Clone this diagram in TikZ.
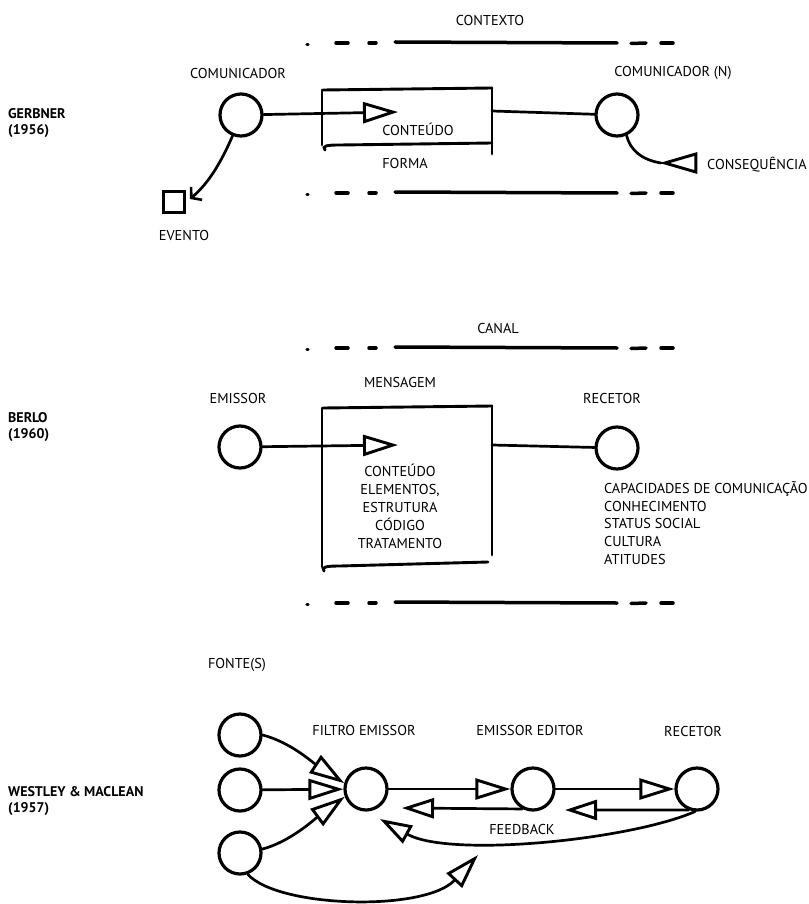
\documentclass[tikz,border=0pt]{standalone}
\usepackage{fontspec}
\setmainfont{PT Sans}
\usetikzlibrary{arrows.meta,shapes.geometric}
\begin{document}
\begin{tikzpicture}[x=1pt,y=-1pt,
  lbl/.style={font=\fontsize{14.3}{17}\selectfont, inner sep=0},
  listtext/.style={font=\fontsize{14.3}{17.8}\selectfont, inner sep=0, align=left},
  boxtext/.style={font=\fontsize{14.3}{18}\selectfont, inner sep=0, align=center},
  ttlb/.style={font=\fontsize{14}{15.5}\selectfont\bfseries, inner sep=0, anchor=west, align=left},
  actor/.style={circle, draw, line width=3.2pt, minimum size=42pt, inner sep=0},
  conn/.style={line width=2.7pt, line cap=round},
  boxline/.style={line width=2.9pt, line cap=round},
  band/.style={line width=3.5pt, line cap=round},
  tri/.style={-{Triangle[open,length=35pt,width=21pt,line width=2.9pt]}},
  smalltri/.style={-{Triangle[open,length=32pt,width=20pt,line width=2.9pt]}},
  barb/.style={-{Straight Barb[length=7pt,width=17pt,line width=2.6pt]}}
]
\useasboundingbox (0,0) rectangle (808,904);

\newcommand\bandrow[1]{%
  \draw[band] (307,#1+1.5) -- (308,#1+1.5);
  \draw[band] (336,#1) -- (348,#1);
  \draw[band] (369,#1) -- (376,#1);
  \draw[band] (395,#1-1) -- (617,#1);
  \draw[band] (631,#1+0.5) -- (646,#1);
  \draw[band] (661,#1) -- (673,#1);
}

% ---------------- GERBNER ----------------
\node[ttlb] (tg) at (8,123) {GERBNER\\(1956)};
\node[lbl] (lctx) at (490,20) {CONTEXTO};
\bandrow{43}
\bandrow{193}

\node[lbl] (lcom) at (238,73) {COMUNICADOR};
\node[actor] (com) at (241,115) {};
\node[lbl] (lcomn) at (673,73) {COMUNICADOR (N)};
\node[actor] (comn) at (617,115) {};

% box
\draw[boxline] (323,90) -- (492,88);
\draw[boxline] (322,90) -- (322,145);
\draw[boxline] (492,88) -- (492,154);
\draw[boxline] (325,150) .. controls (322,146) and (326,145) .. (340,145) -- (492,143);

\coordinate (conttip) at (398,112);
\coordinate (boxR) at (492,111);
\draw[conn,tri] (com) -- (conttip);
\draw[conn] (boxR) -- (comn);
\node[lbl] (lcont) at (418,129) {CONTEÚDO};
\node[lbl] (lforma) at (405,163) {FORMA};

\node[isosceles triangle, draw, line width=2.9pt, shape border rotate=180,
      isosceles triangle stretches, minimum height=31pt, minimum width=18pt,
      inner sep=0, anchor=apex] (csq) at (661,163) {};
\draw[conn] (comn.-65) .. controls (630,150) and (642,160) .. (csq.apex);
\node[lbl, anchor=west] (lcsq) at (707,165) {CONSEQUÊNCIA};

\node[draw, line width=2.9pt, minimum size=21pt, inner sep=0] (evt) at (174,202) {};
\coordinate (evtip) at (190,199);
\draw[conn,barb] (com.-112) .. controls (222,160) and (210,182) .. (evtip);
\node[lbl] (levt) at (184,235) {EVENTO};

% ---------------- BERLO ----------------
\node[ttlb] (tb) at (8,427) {BERLO\\(1960)};
\node[lbl] (lcanal) at (498,328) {CANAL};
\bandrow{348}
\bandrow{603}

\node[lbl] (lmsg) at (400,382) {MENSAGEM};
\node[lbl] (lemi) at (238,398) {EMISSOR};
\node[actor] (emi) at (240,447) {};
\node[lbl] (lrec) at (612,398) {RECETOR};
\node[actor] (rec) at (617,448) {};

\draw[boxline] (323,408) -- (492,406);
\draw[boxline] (322,408) -- (322,567);
\draw[boxline] (492,406) -- (492,555);
\draw[boxline] (324,571) .. controls (321,567) and (326,566) .. (340,566) -- (488,562);

\coordinate (msgtip) at (398,445);
\coordinate (boxR2) at (492,445);
\draw[conn,tri] (emi) -- (msgtip);
\draw[conn] (boxR2) -- (rec);
\node[boxtext] (lmsgtxt) at (400,506) {CONTEÚDO\\ELEMENTOS,\\ESTRUTURA\\CÓDIGO\\TRATAMENTO};
\node[listtext, anchor=north west] (lreclist) at (604,481) {CAPACIDADES DE COMUNICAÇÃO\\CONHECIMENTO\\STATUS SOCIAL\\CULTURA\\ATITUDES};

% ---------------- WESTLEY & MACLEAN ----------------
\node[ttlb] (tw) at (8,801) {WESTLEY \& MACLEAN\\(1957)};
\node[lbl] (lfon) at (237,665) {FONTE(S)};
\node[lbl] (lfil) at (364,730) {FILTRO EMISSOR};
\node[lbl] (led) at (530,730) {EMISSOR EDITOR};
\node[lbl] (lrw) at (693,731) {RECETOR};

\node[actor] (src1) at (240,735) {};
\node[actor] (src2) at (240,790) {};
\node[actor] (src3) at (240,853) {};
\node[actor] (filt) at (366,789) {};
\node[actor] (edit) at (533,789) {};
\node[actor] (recw) at (697,789) {};

\draw[conn,tri] (src1.east) .. controls (290,742) and (312,762) .. (filt.165);
\draw[conn,tri] (src2) -- (filt);
\draw[conn,tri] (src3.10) .. controls (290,842) and (316,818) .. (filt.200);
\coordinate (fbtip) at (478,855);
\draw[conn,tri] (src3.-70) .. controls (278,908) and (425,912) .. (fbtip);

\draw[conn,tri] (filt) -- (edit);
\draw[conn,tri] (edit) -- (recw);

\coordinate (fb1) at (402,808);
\coordinate (fb2) at (565,810);
\coordinate (fb3) at (380,819);
\draw[conn,smalltri] (edit.-118) -- (fb1);
\draw[conn,smalltri] (recw.-112) -- (fb2);
\draw[conn,smalltri] (recw.-95) .. controls (630,840) and (450,858) .. (fb3);
\node[lbl] (lfb) at (522,829) {FEEDBACK};

\end{tikzpicture}
\end{document}
